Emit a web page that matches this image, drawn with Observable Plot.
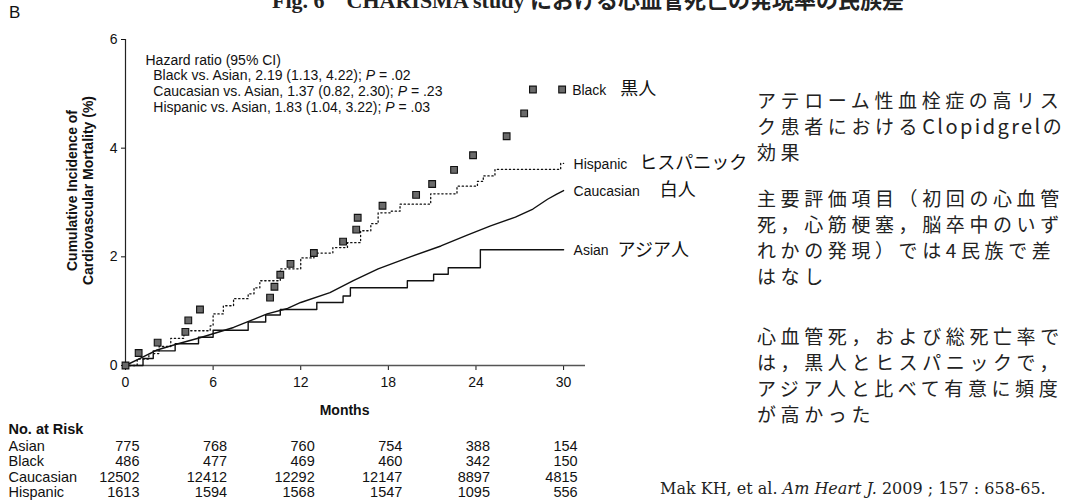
<!DOCTYPE html>
<html>
<head>
<meta charset="utf-8">
<script src="https://cdn.jsdelivr.net/npm/d3@7"></script>
<script src="https://cdn.jsdelivr.net/npm/@observablehq/plot@0.6"></script>
<style>
  body { margin: 0; background: #fff; }
  #page { position: relative; width: 1072px; height: 503px; overflow: hidden; background: #fff;
          font-family: "Liberation Sans", Arial, sans-serif; color: #111; }
  #title { position: absolute; left: 272px; top: -18px; font: bold 22px "Liberation Serif", "Noto Sans CJK JP", serif; white-space: nowrap; color: #222; }
  #panel { position: absolute; left: 9px; top: 3px; font-size: 17px; }
  #chart { position: absolute; left: 0; top: 0; }
  #notes { position: absolute; left: 757px; top: 87px; font: 19px/26px "Noto Sans CJK JP", sans-serif;
           letter-spacing: 4.6px; color: #222; white-space: nowrap; }
  #notes p { margin: 0; }
  #notes p.p2 { margin-top: 20px; }
  #notes p.p3 { margin-top: 34px; }
  #notes .lat { letter-spacing: 2.4px; font-size: 20px; }
  #cite { position: absolute; left: 660px; top: 479px; font: 16px "DejaVu Serif", serif; white-space: nowrap; color: #222; }
</style>
</head>
<body>
<div id="page">
  <div id="title">Fig. 6　CHARISMA study における心血管死亡の発現率の民族差</div>
  <div id="panel">B</div>
  <div id="chart"></div>
  <div id="notes">
    <p>アテローム性血栓症の高リス<br>ク患者における<span class="lat">Clopidgrel</span>の<br>効果</p>
    <p class="p2">主要評価項目（初回の心血管<br>死，心筋梗塞，脳卒中のいず<br>れかの発現）では4民族で差<br>はなし</p>
    <p class="p3">心血管死，および総死亡率で<br>は，黒人とヒスパニックで，<br>アジア人と比べて有意に頻度<br>が高かった</p>
  </div>
  <div id="cite">Mak KH, et al. <i>Am Heart J.</i> 2009 ; 157 : 658-65.</div>
</div>
<script>
// ---- data ----
const xTicks = [0, 6, 12, 18, 24, 30];
const yTicks = [0, 2, 4, 6];
const groups = ["Asian", "Black", "Caucasian", "Hispanic"];
const groupsJa = ["アジア人", "黒人", "白人", "ヒスパニック"];

const blackMonth = [0, 0.9, 2.2, 4.1, 4.3, 5.1, 9.9, 10.2, 10.6, 11.3, 12.9, 14.9, 15.8, 15.9, 17.6, 19.9, 21.0, 22.5, 23.8, 26.1, 27.3, 27.9, 29.9];
const blackValue = [0, 0.23, 0.42, 0.62, 0.83, 1.03, 1.25, 1.45, 1.67, 1.87, 2.07, 2.28, 2.50, 2.72, 2.94, 3.14, 3.34, 3.60, 3.87, 4.22, 4.64, 5.08, 5.08];

const hispanicMonth = [0, 0.8, 1.6, 2.3, 3.1, 4.0, 5.8, 6.0, 6.7, 7.4, 8.4, 8.8, 9.2, 10.6, 12.0, 12.9, 14.2, 15.2, 16.1, 16.8, 17.3, 18.2, 18.8, 20.9, 22.7, 24.1, 24.5, 25.3, 29.8, 30.0];
const hispanicValue = [0, 0.12, 0.22, 0.35, 0.50, 0.64, 0.73, 0.95, 1.10, 1.23, 1.32, 1.43, 1.56, 1.78, 1.98, 2.07, 2.17, 2.26, 2.48, 2.61, 2.81, 2.84, 2.97, 3.16, 3.30, 3.39, 3.49, 3.61, 3.72, 3.72];

const caucasianMonth = [0, 1.0, 2.1, 3.6, 5.1, 7.4, 8.6, 9.7, 11.1, 12.0, 14.0, 15.6, 17.3, 19.5, 21.6, 23.4, 25.0, 26.7, 27.9, 28.9, 29.5, 30.0];
const caucasianValue = [0, 0.13, 0.28, 0.40, 0.51, 0.70, 0.83, 0.95, 1.05, 1.16, 1.34, 1.56, 1.78, 2.00, 2.20, 2.40, 2.57, 2.73, 2.88, 3.06, 3.15, 3.22];

const asianMonth = [0, 1.2, 1.9, 3.4, 5.0, 6.0, 8.4, 9.6, 10.6, 13.1, 14.9, 15.4, 19.3, 21.1, 22.1, 24.3, 30.0];
const asianValue = [0, 0.13, 0.27, 0.40, 0.52, 0.65, 0.80, 0.93, 1.03, 1.16, 1.28, 1.43, 1.56, 1.68, 1.80, 2.13, 2.13];

const atRiskAsian = [775, 768, 760, 754, 388, 154];
const atRiskBlack = [486, 477, 469, 460, 342, 150];
const atRiskCaucasian = [12502, 12412, 12292, 12147, 8897, 4815];
const atRiskHispanic = [1613, 1594, 1568, 1547, 1095, 556];

const hazardLines = [
  "Hazard ratio (95% CI)",
  "  Black vs. Asian, 2.19 (1.13, 4.22); P = .02",
  "  Caucasian vs. Asian, 1.37 (0.82, 2.30); P = .23",
  "  Hispanic vs. Asian, 1.83 (1.04, 3.22); P = .03"
];

// ---- build ----
const zip = (xs, ys) => xs.map((x, i) => ({x, y: ys[i]}));
const black = zip(blackMonth, blackValue);
const hispanic = zip(hispanicMonth, hispanicValue);
const caucasian = zip(caucasianMonth, caucasianValue);
const asian = zip(asianMonth, asianValue);
const atRisk = [atRiskAsian, atRiskBlack, atRiskCaucasian, atRiskHispanic];

const ctx = document.createElement("canvas").getContext("2d");
ctx.font = "14px 'Liberation Sans'";
const measure = s => ctx.measureText(s).width;

const ends = [
  {name: "Black", ja: "黒人", x: blackMonth.at(-1), y: blackValue.at(-1), gap: 14},
  {name: "Hispanic", ja: "ヒスパニック", x: hispanicMonth.at(-1), y: hispanicValue.at(-1), gap: 12},
  {name: "Caucasian", ja: "白人", x: caucasianMonth.at(-1), y: caucasianValue.at(-1), gap: 20},
  {name: "Asian", ja: "アジア人", x: asianMonth.at(-1), y: asianValue.at(-1), gap: 9}
];

const W = 760, H = 503;
const endLabelMarks = ends.flatMap(e => [
  Plot.text([e], {x: "x", y: "y", text: "name", textAnchor: "start", dx: 10, dy: 1, fontSize: 14}),
  Plot.text([e], {x: "x", y: "y", text: "ja", textAnchor: "start", dx: 10 + measure(e.name) + e.gap, dy: 0,
    fontSize: 18, fontFamily: "Noto Sans CJK JP"})
]);

const rowPitch = 15.5, rowStart = 85;
const tableMarks = groups.flatMap((g, i) => [
  Plot.text([g], {frameAnchor: "bottom-left", dx: -117, dy: rowStart + i * rowPitch, textAnchor: "start", fontSize: 14.5}),
  Plot.text(xTicks, {x: d => d, text: (d, j) => String(atRisk[i][j]), frameAnchor: "bottom", dy: rowStart + i * rowPitch,
    textAnchor: "end", dx: 14, fontSize: 14.5})
]);

const plot = Plot.plot({
  width: W, height: H,
  marginLeft: 125, marginRight: W - 585, marginTop: 39, marginBottom: H - 365,
  style: {fontFamily: "'Liberation Sans', 'Noto Sans CJK JP', sans-serif", fontSize: "14px", color: "#111", background: "transparent"},
  x: {domain: [0, 31.5]},
  y: {domain: [0, 6]},
  marks: [
    Plot.axisX({ticks: xTicks, tickSize: 5, tickPadding: 7, label: null, fontSize: 14}),
    Plot.axisY({ticks: yTicks, tickFormat: d3.format("d"), tickSize: 4, tickPadding: 4, label: null, fontSize: 14}),
    Plot.ruleY([0], {x1: 0, x2: 31.5, stroke: "#555", strokeWidth: 1.6}),
    Plot.ruleX([0], {y1: 0, y2: 6, stroke: "#222", strokeWidth: 1.2}),
    Plot.line(asian, {x: "x", y: "y", curve: "step-after", stroke: "#111", strokeWidth: 1.4}),
    Plot.line(caucasian, {x: "x", y: "y", stroke: "#111", strokeWidth: 1.4}),
    Plot.line(hispanic, {x: "x", y: "y", curve: "step-after", stroke: "#111", strokeWidth: 1.3, strokeDasharray: "1.3,2.7"}),
    Plot.dot(black, {x: "x", y: "y", symbol: "square", r: 3.8, fill: "#6a6a6a", stroke: "#111", strokeWidth: 1.1}),
    ...endLabelMarks,
    Plot.text([hazardLines.join("\n")], {frameAnchor: "top-left", dx: 20, dy: 14, textAnchor: "start", lineAnchor: "top",
      lineHeight: 1.12, fontSize: 14}),
    Plot.text(["Cumulative Incidence of\nCardiovascular Mortality (%)"], {frameAnchor: "left", textAnchor: "middle", dx: -46, dy: -12, rotate: -90,
      fontWeight: "bold", fontSize: 14, lineHeight: 1.15}),
    Plot.text(["Months"], {x: () => d3.mean(xTicks), frameAnchor: "bottom", dy: 49, fontWeight: "bold", fontSize: 14}),
    Plot.text(["No. at Risk"], {frameAnchor: "bottom-left", dx: -117, dy: rowStart - rowPitch - 1, textAnchor: "start", fontWeight: "bold", fontSize: 14.5}),
    ...tableMarks
  ]
});
document.getElementById("chart").appendChild(plot);

// italic P in hazard ratios
d3.select(plot).selectAll("tspan").each(function() {
  const t = this.textContent;
  const k = t.indexOf("P =");
  if (k >= 0) {
    const before = t.slice(0, k), after = t.slice(k + 1);
    const el = d3.select(this);
    el.text(null);
    el.append("tspan").text(before);
    el.append("tspan").attr("font-style", "italic").text("P");
    el.append("tspan").text(after);
  }
});
d3.select(plot).selectAll("text").attr("xml:space", "preserve");
</script>
</body>
</html>
